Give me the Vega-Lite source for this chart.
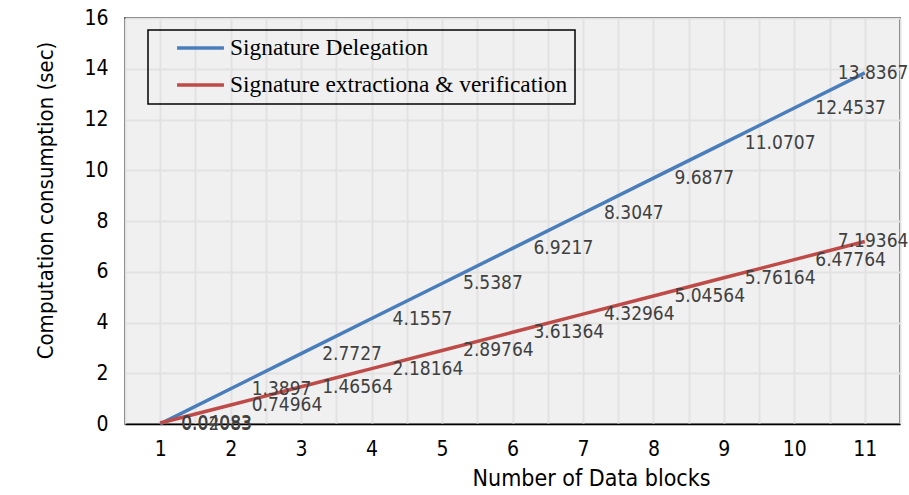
{
  "$schema": "https://vega.github.io/schema/vega-lite/v6.json",
  "autosize": "none",
  "width": 775,
  "height": 406,
  "padding": {"left": 125, "top": 18, "right": 9, "bottom": 71},
  "background": "white",
  "config": {
    "view": {"stroke": "#000000", "strokeWidth": 1.5, "fill": "#f0f0f0"},
    "font": "DejaVu Sans Condensed"
  },
  "data": {
    "values": [
      {"blocks": 1, "time": 0.0067, "label": "0.02083", "series": "Signature Delegation"},
      {"blocks": 2, "time": 1.3897, "label": "1.3897", "series": "Signature Delegation"},
      {"blocks": 3, "time": 2.7727, "label": "2.7727", "series": "Signature Delegation"},
      {"blocks": 4, "time": 4.1557, "label": "4.1557", "series": "Signature Delegation"},
      {"blocks": 5, "time": 5.5387, "label": "5.5387", "series": "Signature Delegation"},
      {"blocks": 6, "time": 6.9217, "label": "6.9217", "series": "Signature Delegation"},
      {"blocks": 7, "time": 8.3047, "label": "8.3047", "series": "Signature Delegation"},
      {"blocks": 8, "time": 9.6877, "label": "9.6877", "series": "Signature Delegation"},
      {"blocks": 9, "time": 11.0707, "label": "11.0707", "series": "Signature Delegation"},
      {"blocks": 10, "time": 12.4537, "label": "12.4537", "series": "Signature Delegation"},
      {"blocks": 11, "time": 13.8367, "label": "13.8367", "series": "Signature Delegation"},
      {"blocks": 1, "time": 0.04083, "label": "0.04083", "series": "Signature extractiona & verification"},
      {"blocks": 2, "time": 0.74964, "label": "0.74964", "series": "Signature extractiona & verification"},
      {"blocks": 3, "time": 1.46564, "label": "1.46564", "series": "Signature extractiona & verification"},
      {"blocks": 4, "time": 2.18164, "label": "2.18164", "series": "Signature extractiona & verification"},
      {"blocks": 5, "time": 2.89764, "label": "2.89764", "series": "Signature extractiona & verification"},
      {"blocks": 6, "time": 3.61364, "label": "3.61364", "series": "Signature extractiona & verification"},
      {"blocks": 7, "time": 4.32964, "label": "4.32964", "series": "Signature extractiona & verification"},
      {"blocks": 8, "time": 5.04564, "label": "5.04564", "series": "Signature extractiona & verification"},
      {"blocks": 9, "time": 5.76164, "label": "5.76164", "series": "Signature extractiona & verification"},
      {"blocks": 10, "time": 6.47764, "label": "6.47764", "series": "Signature extractiona & verification"},
      {"blocks": 11, "time": 7.19364, "label": "7.19364", "series": "Signature extractiona & verification"}
    ]
  },
  "encoding": {
    "x": {
      "field": "blocks", "type": "quantitative",
      "scale": {"domain": [0.5, 11.5], "nice": false, "zero": false},
      "axis": {
        "values": [0.5, 1, 1.5, 2, 2.5, 3, 3.5, 4, 4.5, 5, 5.5, 6, 6.5, 7, 7.5, 8, 8.5, 9, 9.5, 10, 10.5, 11, 11.5],
        "labelExpr": "datum.value % 1 == 0 ? format(datum.value, 'd') : ''",
        "grid": true, "gridColor": "#e2e2e2", "gridWidth": 2,
        "domain": true, "domainColor": "#000000", "domainWidth": 1.5,
        "ticks": false, "labelPadding": 14, "labelFontSize": 21, "labelColor": "#000000",
        "labelFont": "DejaVu Sans Condensed",
        "title": "Number of Data blocks", "titleFontSize": 23, "titleFontWeight": "normal",
        "titleFont": "DejaVu Sans Condensed", "titleColor": "#000000",
        "titleX": 466, "titleY": 54, "titleBaseline": "middle", "titleAlign": "center"
      }
    },
    "y": {
      "field": "time", "type": "quantitative",
      "scale": {"domain": [0, 16], "nice": false},
      "axis": {
        "values": [0, 2, 4, 6, 8, 10, 12, 14, 16],
        "grid": true, "gridColor": "#e2e2e2", "gridWidth": 2,
        "domain": false, "ticks": false, "labelPadding": 17, "labelFontSize": 21, "labelColor": "#000000",
        "labelFont": "DejaVu Sans Condensed",
        "title": "Computation consumption (sec)", "titleFontSize": 22, "titleFontWeight": "normal",
        "titleFont": "DejaVu Sans Condensed", "titleColor": "#000000",
        "titleX": -80, "titleY": 182, "titleAngle": 270, "titleBaseline": "middle", "titleAlign": "center"
      }
    }
  },
  "layer": [
    {
      "mark": {"type": "line", "strokeWidth": 3.5},
      "encoding": {
        "color": {
          "field": "series", "type": "nominal",
          "scale": {"domain": ["Signature Delegation", "Signature extractiona & verification"], "range": ["#4a7ebb", "#be4b48"]},
          "legend": {
            "title": null, "orient": "none", "legendX": 23, "legendY": 12,
            "direction": "vertical",
            "strokeColor": "#000000",
            "padding": 7, "symbolOffset": 20, "symbolType": "stroke", "symbolSize": 2200, "symbolStrokeWidth": 3.5,
            "clipHeight": 22,
            "labelFont": "Liberation Serif", "labelFontSize": 23.4, "labelColor": "#000000", "labelOffset": 4,
            "rowPadding": 13, "labelLimit": 500,
            "encode": {"legend": {"update": {"strokeWidth": {"value": 1.5}}}}
          }
        }
      }
    },
    {
      "transform": [{"filter": "datum.blocks < 11"}],
      "mark": {"type": "text", "align": "left", "baseline": "middle", "dx": 21, "fontSize": 19, "color": "#404040", "font": "DejaVu Sans Condensed"},
      "encoding": {"text": {"field": "label"}}
    },
    {
      "transform": [{"filter": "datum.blocks == 11"}],
      "mark": {"type": "text", "align": "left", "baseline": "middle", "dx": -27, "fontSize": 19, "color": "#404040", "font": "DejaVu Sans Condensed"},
      "encoding": {"text": {"field": "label"}}
    }
  ]
}
